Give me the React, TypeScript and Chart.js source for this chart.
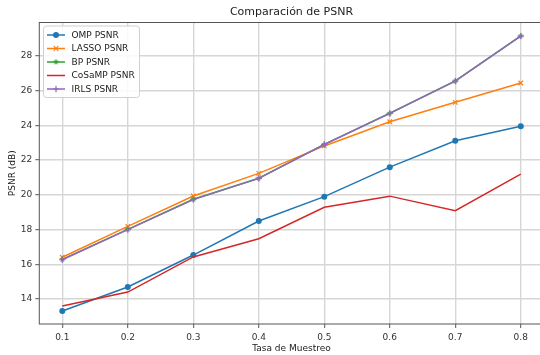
import React, { useEffect, useRef } from "react";
import { Chart, registerables } from "chart.js";

Chart.register(...registerables);

const samplingRates = [0.1, 0.2, 0.3, 0.4, 0.5, 0.6, 0.7, 0.8];
const ompPsnr = [13.31, 14.69, 16.53, 18.49, 19.89, 21.59, 23.11, 23.94];
const lassoPsnr = [16.4, 18.18, 19.93, 21.23, 22.81, 24.2, 25.32, 26.43];
const bpPsnr = [16.28, 18.01, 19.74, 20.95, 22.9, 24.69, 26.55, 29.14];
const cosampPsnr = [13.6, 14.4, 16.42, 17.47, 19.28, 19.92, 19.08, 21.19];
const irlsPsnr = [16.26, 17.99, 19.72, 20.94, 22.89, 24.68, 26.54, 29.13];
const xTicks = [0.1, 0.2, 0.3, 0.4, 0.5, 0.6, 0.7, 0.8];
const yTicks = [14, 16, 18, 20, 22, 24, 26, 28];

const TITLE = "Comparación de PSNR";
const X_LABEL = "Tasa de Muestreo";
const Y_LABEL = "PSNR (dB)";
const FONT = "'DejaVu Sans', sans-serif";

function makeStar(color: string, r: number): HTMLCanvasElement {
  const size = Math.ceil(r * 2 + 2);
  const c = document.createElement("canvas");
  c.width = size;
  c.height = size;
  const ctx = c.getContext("2d")!;
  const cx = size / 2;
  const cy = size / 2;
  ctx.beginPath();
  for (let i = 0; i < 10; i++) {
    const rad = i % 2 === 0 ? r : r * 0.45;
    const a = -Math.PI / 2 + (i * Math.PI) / 5;
    const px = cx + rad * Math.cos(a);
    const py = cy + rad * Math.sin(a);
    if (i === 0) ctx.moveTo(px, py);
    else ctx.lineTo(px, py);
  }
  ctx.closePath();
  ctx.fillStyle = color;
  ctx.fill();
  return c;
}

export default function App() {
  const ref = useRef<HTMLCanvasElement | null>(null);

  useEffect(() => {
    document.body.style.margin = "0";
    const canvas = ref.current;
    if (!canvas) return;

    const colors = ["#1f77b4", "#ff7f0e", "#2ca02c", "#d62728", "#9467bd"];
    const names = ["OMP PSNR", "LASSO PSNR", "BP PSNR", "CoSaMP PSNR", "IRLS PSNR"];
    const series = [ompPsnr, lassoPsnr, bpPsnr, cosampPsnr, irlsPsnr];
    const star = makeStar(colors[2], 3.2);
    const styles: any[] = ["circle", "crossRot", star, false, "cross"];
    const radii = [3, 3.2, 3.2, 0, 3.2];

    const datasets = series.map((vals, i) => ({
      label: names[i],
      data: vals.map((v, j) => ({ x: samplingRates[j], y: v })),
      borderColor: colors[i],
      backgroundColor: colors[i],
      borderWidth: 1.5,
      pointStyle: styles[i],
      pointRadius: radii[i],
      pointBorderWidth: i === 0 ? 0 : 1.2,
      pointBorderColor: colors[i],
      pointBackgroundColor: colors[i],
      tension: 0,
      order: 5 - i,
    }));

    const overlay = {
      id: "overlay",
      afterDraw(chart: any) {
        const ctx = chart.ctx as CanvasRenderingContext2D;
        const a = chart.chartArea;
        ctx.save();
        // spines
        ctx.strokeStyle = "#555";
        ctx.lineWidth = 1;
        ctx.strokeRect(a.left, a.top, a.right - a.left, a.bottom - a.top);

        // title
        ctx.fillStyle = "#222";
        ctx.font = `11px ${FONT}`;
        ctx.textAlign = "center";
        ctx.textBaseline = "middle";
        const cx = (a.left + a.right) / 2;
        ctx.fillText(TITLE, cx, 12);
        // x label
        ctx.font = `9px ${FONT}`;
        ctx.fillText(X_LABEL, cx, 349);
        // y label
        ctx.save();
        ctx.translate(12.5, (a.top + a.bottom) / 2);
        ctx.rotate(-Math.PI / 2);
        ctx.fillText(Y_LABEL, 0, 0);
        ctx.restore();

        // legend
        const lx = 43.5, ly = 26, lw = 96, lh = 71.5, rr = 3;
        ctx.beginPath();
        ctx.moveTo(lx + rr, ly);
        ctx.lineTo(lx + lw - rr, ly);
        ctx.quadraticCurveTo(lx + lw, ly, lx + lw, ly + rr);
        ctx.lineTo(lx + lw, ly + lh - rr);
        ctx.quadraticCurveTo(lx + lw, ly + lh, lx + lw - rr, ly + lh);
        ctx.lineTo(lx + rr, ly + lh);
        ctx.quadraticCurveTo(lx, ly + lh, lx, ly + lh - rr);
        ctx.lineTo(lx, ly + rr);
        ctx.quadraticCurveTo(lx, ly, lx + rr, ly);
        ctx.closePath();
        ctx.fillStyle = "rgba(255,255,255,0.85)";
        ctx.fill();
        ctx.strokeStyle = "#d0d0d0";
        ctx.lineWidth = 1;
        ctx.stroke();

        for (let i = 0; i < names.length; i++) {
          const y = 35 + i * 13.5;
          ctx.strokeStyle = colors[i];
          ctx.lineWidth = 1.5;
          ctx.beginPath();
          ctx.moveTo(47, y);
          ctx.lineTo(65, y);
          ctx.stroke();
          const mx = 56;
          ctx.fillStyle = colors[i];
          ctx.lineWidth = 1.2;
          if (i === 0) {
            ctx.beginPath();
            ctx.arc(mx, y, 3, 0, Math.PI * 2);
            ctx.fill();
          } else if (i === 1) {
            ctx.beginPath();
            ctx.moveTo(mx - 2.3, y - 2.3);
            ctx.lineTo(mx + 2.3, y + 2.3);
            ctx.moveTo(mx - 2.3, y + 2.3);
            ctx.lineTo(mx + 2.3, y - 2.3);
            ctx.stroke();
          } else if (i === 2) {
            ctx.drawImage(star, mx - star.width / 2, y - star.height / 2);
          } else if (i === 4) {
            ctx.beginPath();
            ctx.moveTo(mx - 3.2, y);
            ctx.lineTo(mx + 3.2, y);
            ctx.moveTo(mx, y - 3.2);
            ctx.lineTo(mx, y + 3.2);
            ctx.stroke();
          }
          ctx.fillStyle = "#222";
          ctx.font = `9px ${FONT}`;
          ctx.textAlign = "left";
          ctx.textBaseline = "middle";
          ctx.fillText(names[i], 71.5, y + 0.5);
        }
        ctx.restore();
      },
    };

    const chart = new Chart(canvas, {
      type: "line",
      data: { datasets: datasets as any },
      options: {
        responsive: false,
        animation: false,
        devicePixelRatio: 1,
        layout: { autoPadding: false, padding: { left: 0, top: 22.5, right: 16.3, bottom: 0 } } as any,
        plugins: {
          legend: { display: false },
          title: { display: false },
          tooltip: { enabled: false },
        },
        scales: {
          x: {
            type: "linear",
            min: 0.0649,
            max: 0.835,
            afterFit: (s: any) => {
              s.height = 31;
              s.paddingLeft = 0;
              s.paddingRight = 0;
            },
            afterBuildTicks: (s: any) => {
              s.ticks = xTicks.map((v) => ({ value: v }));
            },
            border: { display: false },
            grid: {
              color: "#d6d6d6",
              lineWidth: 1.4,
              tickLength: 4,
              tickColor: "#555",
              tickWidth: 1,
            } as any,
            ticks: {
              padding: 4,
              maxRotation: 0,
              autoSkip: false,
              color: "#333",
              font: { family: FONT, size: 9 },
              callback: (v: any) => Number(v).toFixed(1),
            },
          },
          y: {
            type: "linear",
            min: 12.561,
            max: 29.914,
            afterFit: (s: any) => {
              s.width = 39.3;
              s.paddingTop = 0;
              s.paddingBottom = 0;
            },
            afterBuildTicks: (s: any) => {
              s.ticks = yTicks.map((v) => ({ value: v }));
            },
            border: { display: false },
            grid: {
              color: "#d6d6d6",
              lineWidth: 1.4,
              tickLength: 4,
              tickColor: "#555",
              tickWidth: 1,
            } as any,
            ticks: {
              padding: 3,
              autoSkip: false,
              color: "#333",
              font: { family: FONT, size: 9 },
              callback: (v: any) => String(v),
            },
          },
        },
      },
      plugins: [overlay],
    });

    return () => chart.destroy();
  }, []);

  return (
    <div style={{ width: 540, height: 355, overflow: "hidden" }}>
      <canvas ref={ref} width={560} height={355} style={{ display: "block" }} />
    </div>
  );
}
